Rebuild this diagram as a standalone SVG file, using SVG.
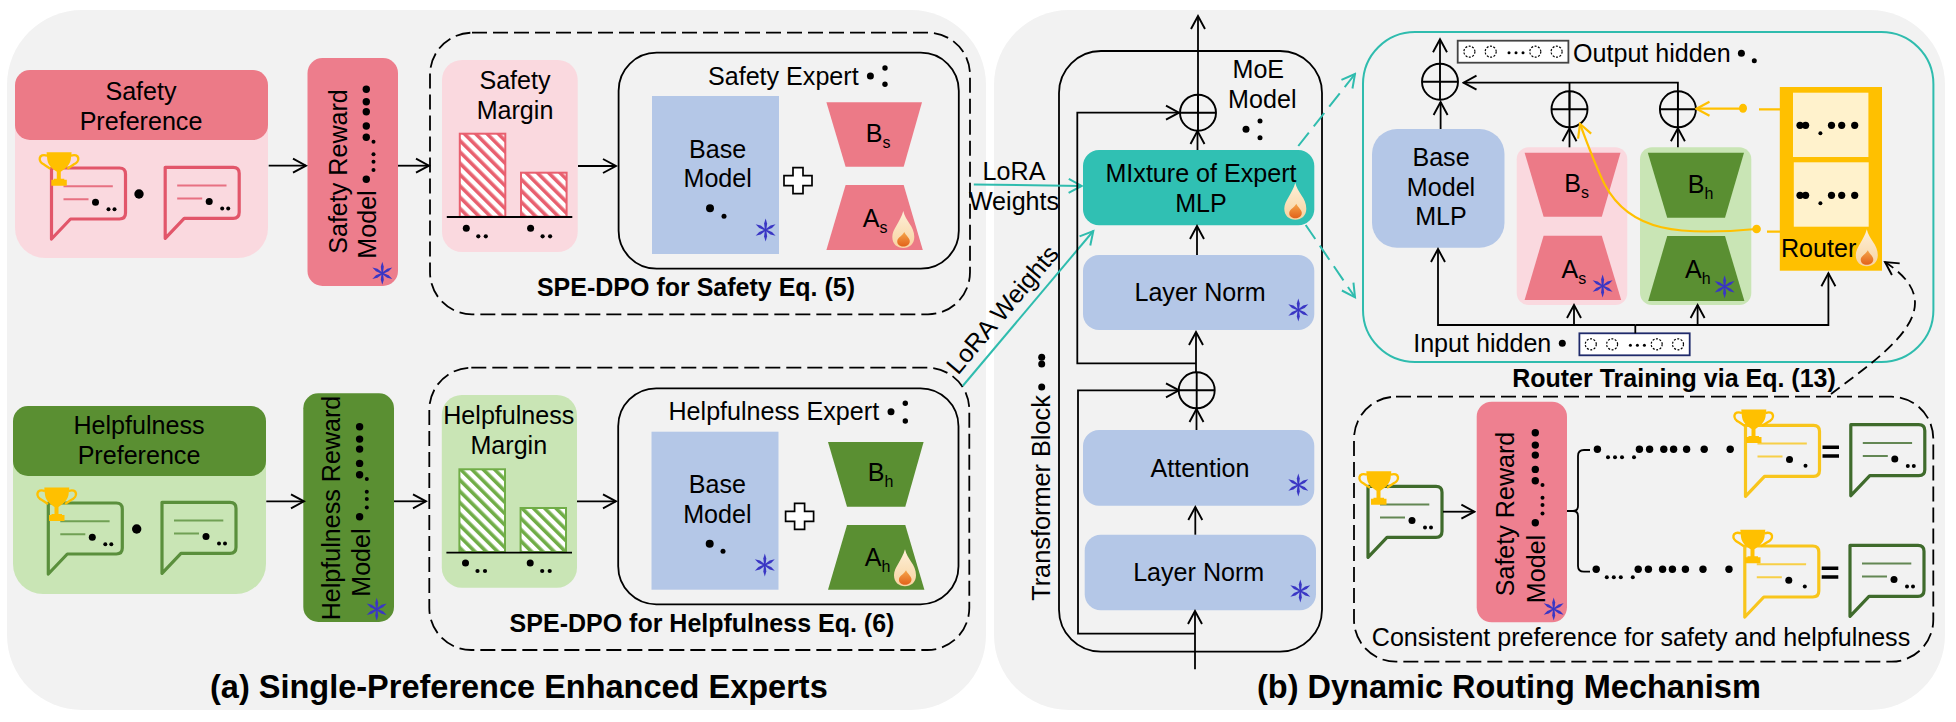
<svg xmlns="http://www.w3.org/2000/svg" width="1956" height="722" viewBox="0 0 1956 722">
<style>
text{font-family:"Liberation Sans",Arial,sans-serif;font-size:25.100px;fill:#000}
.m{text-anchor:middle}
.b{font-weight:bold;font-size:25px}
.t{font-weight:bold;font-size:32.500px}
.c{fill:none;stroke:#000;stroke-width:1.8}
.dash{fill:none;stroke:#000;stroke-width:1.8;stroke-dasharray:15 6}
.teal{fill:none;stroke:#2fbcae;stroke-width:2}
.teald{fill:none;stroke:#2fbcae;stroke-width:2;stroke-dasharray:17 8}
.org{fill:none;stroke:#ffc000;stroke-width:2.2}
.k{fill:#000}
.pink{fill:#fad9df}.red{fill:#ec7a87}.lg{fill:#c9e5b5}.dg{fill:#5a8f32}.blue{fill:#b4c7e7}.cyan{fill:#30c0b3}
.a{marker-end:url(#arr)}.at{marker-end:url(#arrT)}.ao{marker-end:url(#arrO)}
.hc{fill:none;stroke:#000;stroke-width:1.2;stroke-dasharray:2 1.5}
</style>
<defs>
<marker id="arr" viewBox="-16 -9 18 18" refX="0" refY="0" markerWidth="18" markerHeight="18" markerUnits="userSpaceOnUse" orient="auto"><path d="M-13,-7L0,0L-13,7" fill="none" stroke="#000" stroke-width="1.9"/></marker>
<marker id="arrT" viewBox="-16 -9 18 18" refX="0" refY="0" markerWidth="18" markerHeight="18" markerUnits="userSpaceOnUse" orient="auto"><path d="M-13,-7L0,0L-13,7" fill="none" stroke="#2fbcae" stroke-width="2"/></marker>
<marker id="arrO" viewBox="-16 -9 18 18" refX="0" refY="0" markerWidth="18" markerHeight="18" markerUnits="userSpaceOnUse" orient="auto"><path d="M-13,-7L0,0L-13,7" fill="none" stroke="#ffc000" stroke-width="2.2"/></marker>
<pattern id="hr" width="8" height="8" patternUnits="userSpaceOnUse" patternTransform="rotate(-45)"><rect width="8" height="8" fill="#fff"/><rect width="3.600" height="8" fill="#e8606f"/></pattern>
<pattern id="hg" width="8" height="8" patternUnits="userSpaceOnUse" patternTransform="rotate(-45)"><rect width="8" height="8" fill="#fff"/><rect width="3.600" height="8" fill="#70ad47"/></pattern>
<linearGradient id="fl" x1="0" y1="0" x2="0" y2="1"><stop offset="0" stop-color="#fdf0d8"/><stop offset="1" stop-color="#f8d3a0"/></linearGradient>
<linearGradient id="fi" x1="0" y1="0" x2="0" y2="1"><stop offset="0" stop-color="#f5a54a"/><stop offset="1" stop-color="#e2621a"/></linearGradient>
<g id="flame"><path d="M0,-19C2,-9 11,-4 11,7C11,14 6,18 0,18C-6,18 -11,14 -11,7C-11,-1 -3,-8 0,-19Z" fill="url(#fl)"/><path d="M1,2C3,6 6.500,8 6.500,11C6.500,15 3,16.500 0,16.500C-4,16.500 -6.500,14 -6,10.500C-5,7 -1,6 1,2Z" fill="url(#fi)"/></g>
<path id="arm" d="M0,-11.500L1.500,-6.500 .7,0 -.7,0 -1.500,-6.500Z"/>
<g id="flake" fill="#3a36c4"><use href="#arm"/><use href="#arm" transform="rotate(60)"/><use href="#arm" transform="rotate(120)"/><use href="#arm" transform="rotate(180)"/><use href="#arm" transform="rotate(240)"/><use href="#arm" transform="rotate(300)"/></g>
<g id="plus"><circle r="18" fill="none" stroke="#000" stroke-width="1.9"/><path d="M-18,0H18M0,-18V18" fill="none" stroke="#000" stroke-width="1.9"/></g>
<g id="cross"><path d="M-5,-13H5V-5H14V5H5V13H-5V5H-14V-5H-5Z" fill="#fff" stroke="#000" stroke-width="1.7"/></g>
<g id="trophy"><path d="M8.300,.5H33.300L32.500,8C31,15 25,18 22.500,20V27H26V28H28.500V34H13V28H15.500V27H18.500V20C16,18 10,15 9,8Z" fill="#ffc000"/><path d="M9,4C0,1 -1,10 6,13L12,17M32.500,4C41.500,1 42.500,10 35,13L29,17" fill="none" stroke="#ffc000" stroke-width="2.400"/></g>
<g id="bub"><path d="M2,73V2H70Q76,2 76,8V47Q76,53 70,53H21Z" fill="none" stroke="currentColor" stroke-width="3.200" stroke-linejoin="round"/><path d="M14,20.300H63.300M14,33.300H39" fill="none" stroke="currentColor" stroke-width="2" opacity=".8"/><circle cx="46" cy="36.300" r="3.500"/></g>
<g id="bub2"><use href="#bub"/><circle cx="59" cy="43.300" r="2"/><circle cx="65" cy="43.300" r="2"/></g>
<g id="bub1"><use href="#bub"/><circle cx="62" cy="42.500" r="2"/></g>
<g id="rdots"><circle cx="0" cy="0" r="3.700"/><circle cx="0" cy="-42" r="3.700"/><circle cx="0" cy="-53.300" r="3.700"/><circle cx="0" cy="-67.600" r="3.700"/><circle cx="0" cy="-77.600" r="3.700"/><circle cx="0" cy="-90" r="3.700"/><circle cx="7.200" cy="-9.300" r="2"/><circle cx="7.200" cy="-17.600" r="2"/><circle cx="7.200" cy="-25" r="2"/><circle cx="7.200" cy="-37.600" r="2"/></g>
<g id="axd"><circle cx="0" cy="0" r="3.500"/><circle cx="12" cy="8" r="2.100"/><circle cx="19.500" cy="8" r="2.100"/></g>
<g id="longd"><circle cx="0" cy="0" r="3.700"/><circle cx="10.600" cy="8" r="2"/><circle cx="17.600" cy="8" r="2"/><circle cx="24.600" cy="8" r="2"/><circle cx="36.600" cy="8" r="2"/><circle cx="42" cy="0" r="3.700"/><circle cx="52.200" cy="0" r="3.700"/><circle cx="66.400" cy="0" r="3.700"/><circle cx="76.200" cy="0" r="3.700"/><circle cx="89.200" cy="0" r="3.700"/><circle cx="106.800" cy="0" r="3.700"/><circle cx="132.800" cy="0" r="3.700"/></g>
<g id="rtd"><circle cx="0" cy="0" r="3.600"/><circle cx="5.600" cy="0" r="3.600"/><circle cx="20.400" cy="8" r="2"/><circle cx="31.500" cy="0" r="3.600"/><circle cx="41.700" cy="0" r="3.600"/><circle cx="54.700" cy="0" r="3.600"/></g>
<g id="hid"><circle class="hc" cx="11.400" cy="11" r="5.500"/><circle class="hc" cx="32.700" cy="11" r="5.500"/><circle class="hc" cx="77.300" cy="11" r="5.500"/><circle class="hc" cx="98.600" cy="11" r="5.500"/><circle cx="51" cy="12" r="1.500"/><circle cx="58" cy="12" r="1.500"/><circle cx="65" cy="12" r="1.500"/></g>
</defs>

<g id="panels">
<rect x="7" y="10" width="979" height="700" rx="75" fill="#f2f2f2"/>
<rect x="994" y="10" width="951" height="700" rx="75" fill="#f2f2f2"/>
<text class="t" x="210" y="697.500">(a) Single-Preference Enhanced Experts</text>
<text class="t" x="1257" y="697.500">(b) Dynamic Routing Mechanism</text>
</g>

<g id="safety-preference">
<rect class="pink" x="15" y="70" width="253" height="188" rx="30"/>
<rect class="red" x="15" y="70" width="253" height="70" rx="15"/>
<text class="m" x="141" y="99.500">Safety</text><text class="m" x="141" y="129.500">Preference</text>
<use href="#bub2" transform="translate(49.500,166)" color="#e2566a"/>
<use href="#bub2" transform="translate(163.200,165.300)" color="#e2566a"/>
<use href="#trophy" transform="translate(38.300,151.700)"/>
<circle cx="139" cy="194" r="4.700"/>
</g>
<g id="safety-reward">
<rect x="307.500" y="58" width="90.500" height="228" rx="15" fill="#ed7d8c"/>
<text class="m" transform="translate(346.700,171.500) rotate(-90)">Safety Reward</text>
<text class="m" transform="translate(376,224.500) rotate(-90)">Model</text>
<use href="#rdots" transform="translate(366.300,179.300)"/>
<use href="#flake" transform="translate(382.300,273.300)"/>
</g>
<g id="spe-safety">
<rect class="dash" x="430" y="32.700" width="540" height="281.600" rx="42"/>
<text class="m b" x="696" y="296">SPE-DPO for Safety Eq. (5)</text>
</g>
<g id="safety-margin">
<rect class="pink" x="442" y="60" width="135.700" height="192" rx="20"/>
<text class="m" x="515" y="89.300">Safety</text><text class="m" x="515" y="119.300">Margin</text>
<rect x="459.800" y="133.700" width="45.500" height="83" fill="url(#hr)" stroke="#e8606f" stroke-width="2"/>
<rect x="521" y="172.700" width="45.600" height="44" fill="url(#hr)" stroke="#e8606f" stroke-width="2"/>
<path class="c" d="M446.800,217H572.300"/>
<use href="#axd" transform="translate(466.300,228.300)"/><use href="#axd" transform="translate(530.600,228.300)"/>
</g>
<g id="safety-expert">
<rect class="c" x="618.600" y="52.700" width="340.200" height="216" rx="38" stroke-width="2"/>
<text x="708" y="85">Safety Expert</text>
<circle cx="870.400" cy="76" r="3.500"/><circle cx="885" cy="68" r="2.700"/><circle cx="885" cy="84.300" r="2.700"/>
<rect class="blue" x="652" y="96" width="127" height="158"/>
<text class="m" x="717.700" y="157.700">Base</text><text class="m" x="717.700" y="187.300">Model</text>
<circle cx="710" cy="208.300" r="4"/><circle cx="724" cy="216.300" r="2.500"/>
<use href="#flake" transform="translate(765.600,230)"/>
<use href="#cross" transform="translate(798,180.700)"/>
<path class="red" d="M826.400,102.300H922L903.700,166.700H845.600Z"/>
<path class="red" d="M845.600,185H903.700L922.800,250H826.400Z"/>
<text x="865.800" y="141.700">B<tspan font-size="16" dy="6">s</tspan></text>
<text x="862.800" y="226.700">A<tspan font-size="16" dy="6">s</tspan></text>
<use href="#flame" transform="translate(903.300,230)"/>
</g>

<g id="helpfulness-preference">
<rect class="lg" x="13" y="406" width="253" height="188" rx="30"/>
<rect class="dg" x="13" y="406" width="253" height="70" rx="15"/>
<text class="m" x="139" y="434.300">Helpfulness</text><text class="m" x="139" y="464.300">Preference</text>
<use href="#bub2" transform="translate(46.300,501)" color="#5a8f3c"/>
<use href="#bub2" transform="translate(160,500.300)" color="#5a8f3c"/>
<use href="#trophy" transform="translate(36,487)"/>
<circle cx="136.700" cy="529" r="4.700"/>
</g>
<g id="helpfulness-reward">
<rect class="dg" x="303.300" y="393.300" width="90.700" height="228.700" rx="15"/>
<text class="m" transform="translate(340,508) rotate(-90)">Helpfulness Reward</text>
<text class="m" transform="translate(370,562.600) rotate(-90)">Model</text>
<use href="#rdots" transform="translate(359.600,516.700)"/>
<use href="#flake" transform="translate(376.700,609.300)"/>
</g>
<g id="spe-helpfulness">
<rect class="dash" x="429.300" y="367.700" width="540" height="282.300" rx="42"/>
<text class="m b" x="702" y="632">SPE-DPO for Helpfulness Eq. (6)</text>
</g>
<g id="helpfulness-margin">
<rect class="lg" x="441.800" y="395" width="135.200" height="192.700" rx="20"/>
<text class="m" x="508.800" y="424.300">Helpfulness</text><text class="m" x="508.800" y="454.300">Margin</text>
<rect x="459.400" y="469.300" width="45.600" height="82.700" fill="url(#hg)" stroke="#70ad47" stroke-width="2"/>
<rect x="520.600" y="508" width="45.400" height="44" fill="url(#hg)" stroke="#70ad47" stroke-width="2"/>
<path class="c" d="M446.400,552.700H572"/>
<use href="#axd" transform="translate(465.500,563)"/><use href="#axd" transform="translate(530.200,563)"/>
</g>
<g id="helpfulness-expert">
<rect class="c" x="618.200" y="388.300" width="340.300" height="216" rx="38" stroke-width="2"/>
<text x="668.500" y="419.700">Helpfulness Expert</text>
<circle cx="891" cy="411.700" r="3.500"/><circle cx="905.300" cy="403.300" r="2.700"/><circle cx="905.300" cy="421" r="2.700"/>
<rect class="blue" x="651.500" y="431.700" width="127" height="158"/>
<text class="m" x="717.400" y="493.300">Base</text><text class="m" x="717.400" y="523.300">Model</text>
<circle cx="709.700" cy="543.700" r="4"/><circle cx="723" cy="551.300" r="2.500"/>
<use href="#flake" transform="translate(764.800,565)"/>
<use href="#cross" transform="translate(799.600,516.300)"/>
<path class="dg" d="M828,442H923.600L905.300,506.700H847Z"/>
<path class="dg" d="M847,525H905.300L924.400,589.700H828Z"/>
<text x="867.800" y="481">B<tspan font-size="16" dy="6">h</tspan></text>
<text x="864.700" y="566">A<tspan font-size="16" dy="6">h</tspan></text>
<use href="#flame" transform="translate(905,568.300)"/>
</g>

<g id="moe-model">
<rect class="c" x="1059" y="51" width="263" height="600.700" rx="42"/>
<text class="m" x="1258.300" y="78.300">MoE</text><text class="m" x="1262.300" y="108.300">Model</text>
<circle cx="1246" cy="129.300" r="3.500"/><circle cx="1260" cy="121" r="2.500"/><circle cx="1260" cy="137.700" r="2.500"/>
<text class="m" transform="translate(1050,498) rotate(-90)" style="font-size:25.300px">Transformer Block</text>
<circle cx="1041.700" cy="387" r="3.500"/><circle cx="1041.700" cy="364" r="3.500"/><circle cx="1041.700" cy="357.300" r="3.500"/>
</g>
<g id="mixture">
<rect class="cyan" x="1083" y="150" width="231.300" height="75.300" rx="16"/>
<text class="m" x="1201" y="181.700">MIxture of Expert</text><text class="m" x="1201" y="211.700">MLP</text>
<use href="#flame" transform="translate(1295.300,201.700)"/>
</g>
<g id="layer-norm-top">
<rect class="blue" x="1083" y="255" width="231.300" height="75" rx="16"/>
<text class="m" x="1200" y="301">Layer Norm</text>
<use href="#flake" transform="translate(1298.300,310)"/>
</g>
<g id="attention">
<rect class="blue" x="1083" y="430" width="231.300" height="75.700" rx="16"/>
<text class="m" x="1200" y="476.700">Attention</text>
<use href="#flake" transform="translate(1298.300,485)"/>
</g>
<g id="layer-norm-bottom">
<rect class="blue" x="1084.700" y="534.700" width="231.300" height="75.600" rx="16"/>
<text class="m" x="1198.700" y="581">Layer Norm</text>
<use href="#flake" transform="translate(1300.300,591)"/>
</g>

<g id="router-training">
<rect class="teal" x="1363" y="32" width="570.400" height="330" rx="52"/>
<text class="m b" x="1674" y="386.700">Router Training via Eq. (13)</text>
</g>
<g id="output-hidden">
<rect x="1457.700" y="40.700" width="110.700" height="22" fill="#fff" stroke="#444" stroke-width="1.800"/>
<use href="#hid" transform="translate(1458,40.700)"/>
<text x="1573" y="61.700">Output hidden</text>
<circle cx="1741.400" cy="53.300" r="3.500"/><circle cx="1754.300" cy="60.700" r="2.500"/>
</g>
<g id="base-mlp">
<rect class="blue" x="1372" y="129" width="132.500" height="118.700" rx="25"/>
<text class="m" x="1441" y="166">Base</text><text class="m" x="1441" y="195.700">Model</text><text class="m" x="1441" y="225">MLP</text>
</g>
<g id="expert-s">
<rect class="pink" x="1516.700" y="147.300" width="110.600" height="157.700" rx="12"/>
<path class="red" d="M1524.600,152.700H1620.500L1601.800,216.700H1543.600Z"/>
<path class="red" d="M1543.600,235.700H1601.800L1621.200,300H1524.600Z"/>
<text x="1564.200" y="191.700">B<tspan font-size="16" dy="6">s</tspan></text>
<text x="1561.500" y="277.700">A<tspan font-size="16" dy="6">s</tspan></text>
<use href="#flake" transform="translate(1602.600,286)"/>
</g>
<g id="expert-h">
<rect class="lg" x="1640" y="147.300" width="111.300" height="157.700" rx="12"/>
<path class="dg" d="M1647.800,152.700H1744L1725,217.700H1667.200Z"/>
<path class="dg" d="M1667.200,236H1725L1744.400,301H1648.200Z"/>
<text x="1687.800" y="192.700">B<tspan font-size="16" dy="6">h</tspan></text>
<text x="1685" y="278.300">A<tspan font-size="16" dy="6">h</tspan></text>
<use href="#flake" transform="translate(1724.600,286.700)"/>
</g>
<g id="router">
<rect x="1779.800" y="87" width="102.200" height="183.700" fill="#ffc000"/>
<rect x="1793" y="92.700" width="75.400" height="64.300" fill="#fff2cc"/>
<rect x="1793.800" y="162.300" width="74.900" height="64.400" fill="#fff2cc"/>
<use href="#rtd" transform="translate(1800,125.300)"/><use href="#rtd" transform="translate(1800,195.300)"/>
<text x="1781" y="257.300">Router</text>
<use href="#flame" transform="translate(1866.800,248.300)"/>
</g>
<g id="input-hidden">
<text x="1413.200" y="351.700">Input hidden</text>
<circle cx="1562.300" cy="343.300" r="3.500"/>
<rect x="1579.400" y="333.300" width="110.300" height="22" fill="#fff" stroke="#1f2a6b" stroke-width="1.800"/>
<use href="#hid" transform="translate(1579.400,333.300)"/>
</g>

<g id="consistent-preference">
<rect class="dash" x="1354" y="396.700" width="579.300" height="265" rx="42"/>
<text class="m" x="1641" y="646">Consistent preference for safety and helpfulness</text>
<use href="#bub2" transform="translate(1366,484.300)" color="#3f6b2c"/>
<use href="#trophy" transform="translate(1358,470.700)"/>
</g>
<g id="safety-reward-2">
<rect x="1476.700" y="401.700" width="90.300" height="220.600" rx="15" fill="#ee8090"/>
<text class="m" transform="translate(1514,514) rotate(-90)">Safety Reward</text>
<text class="m" transform="translate(1545,569) rotate(-90)">Model</text>
<use href="#rdots" transform="translate(1535.300,522.700)"/>
<use href="#flake" transform="translate(1553.700,609)"/>
</g>
<g id="results">
<use href="#longd" transform="translate(1597.400,449.300)"/>
<use href="#longd" transform="translate(1596.200,569.300)"/>
<use href="#bub1" transform="translate(1743.500,423.300)" color="#f8c51c"/>
<use href="#trophy" transform="translate(1733,409)"/>
<use href="#bub1" transform="translate(1742.800,544)" color="#f8c51c"/>
<use href="#trophy" transform="translate(1732,529.300)"/>
<path d="M1822.500,447.300H1839M1822.500,456H1839M1821.700,568.300H1838.300M1821.700,577H1838.300" stroke="#000" stroke-width="3.500" fill="none"/>
<use href="#bub2" transform="translate(1848.800,422.700)" color="#3f6b2c"/>
<use href="#bub2" transform="translate(1848,543.300)" color="#3f6b2c"/>
</g>

<g id="connectors">
<path class="c a" d="M268.700,165.700H306"/>
<path class="c a" d="M398,165.700H429"/>
<path class="c a" d="M578,166H616"/>
<path class="c a" d="M266.300,501.300H304"/>
<path class="c a" d="M394,501.300H426"/>
<path class="c a" d="M577,501.300H616"/>
<path class="teal at" d="M973.800,184.500L1081.700,186"/>
<path class="teal at" d="M962.700,386L1093.300,231"/>
<path class="teald at" d="M1298.300,146L1355,74"/>
<path class="teald at" d="M1305.700,225L1355,297.300"/>
<path class="c a" d="M1198,113V16"/>
<use href="#plus" transform="translate(1198,112.700)"/>
<path class="c a" d="M1197.500,150V131"/>
<path class="c a" d="M1197,255V226"/>
<path class="c a" d="M1196,372.500V332"/>
<use href="#plus" transform="translate(1196.700,390.300)"/>
<path class="c a" d="M1196.500,430V409"/>
<path class="c a" d="M1195.300,534.700V507"/>
<path class="c a" d="M1195,669.300V611"/>
<path class="c a" d="M1196,363.300H1077.300V112.700H1179"/>
<path class="c a" d="M1195,633.700H1078V390.300H1179"/>
<path class="c a" d="M1440.600,129V102"/>
<use href="#plus" transform="translate(1440,81.700)"/>
<path class="c a" d="M1440,64V39.300"/>
<path class="c a" d="M1677.900,109V82.700H1463.500"/>
<path class="c" d="M1569.500,82.700V109"/>
<use href="#plus" transform="translate(1569.500,109.300)"/>
<use href="#plus" transform="translate(1677.900,109.300)"/>
<path class="c a" d="M1569.500,147.300V128.300"/>
<path class="c a" d="M1677.900,147.300V128.300"/>
<path class="c" d="M1635.300,333.300V325"/>
<path class="c a" d="M1635.300,325H1438V249"/>
<path class="c a" d="M1635.300,325H1828.400V273.300"/>
<path class="c a" d="M1574,325V305"/>
<path class="c a" d="M1697.600,325V305"/>
<path class="org" d="M1780,109.300H1759M1780,231.700H1767"/>
<path class="org ao" d="M1743,108.700H1696.500"/>
<ellipse cx="1743" cy="108.300" rx="4" ry="4.500" fill="#ffc000"/>
<path class="org ao" d="M1756.600,229C1680,236 1630,232 1605,185C1595,165 1588,145 1580,124"/>
<circle cx="1756.600" cy="229" r="4.300" fill="#ffc000"/>
<path class="c a" d="M1831,394C1865,368 1915,335 1915,303C1915,285 1900,272 1885,262" stroke-dasharray="11 6"/>
<path class="c a" d="M1443,511.700H1474.400"/>
<path class="c" d="M1567,511H1573Q1578,511 1578,506V456Q1578,450 1584,450H1590M1573,511Q1578,511 1578,516V566Q1578,571.700 1584,571.700H1590"/>
</g>

<g id="connector-labels">
<text class="m" x="1014" y="180">LoRA</text>
<text class="m" x="1014" y="209.500">Weights</text>
<text class="m" transform="translate(1009,315) rotate(-50)">LoRA Weights</text>
</g>
</svg>
